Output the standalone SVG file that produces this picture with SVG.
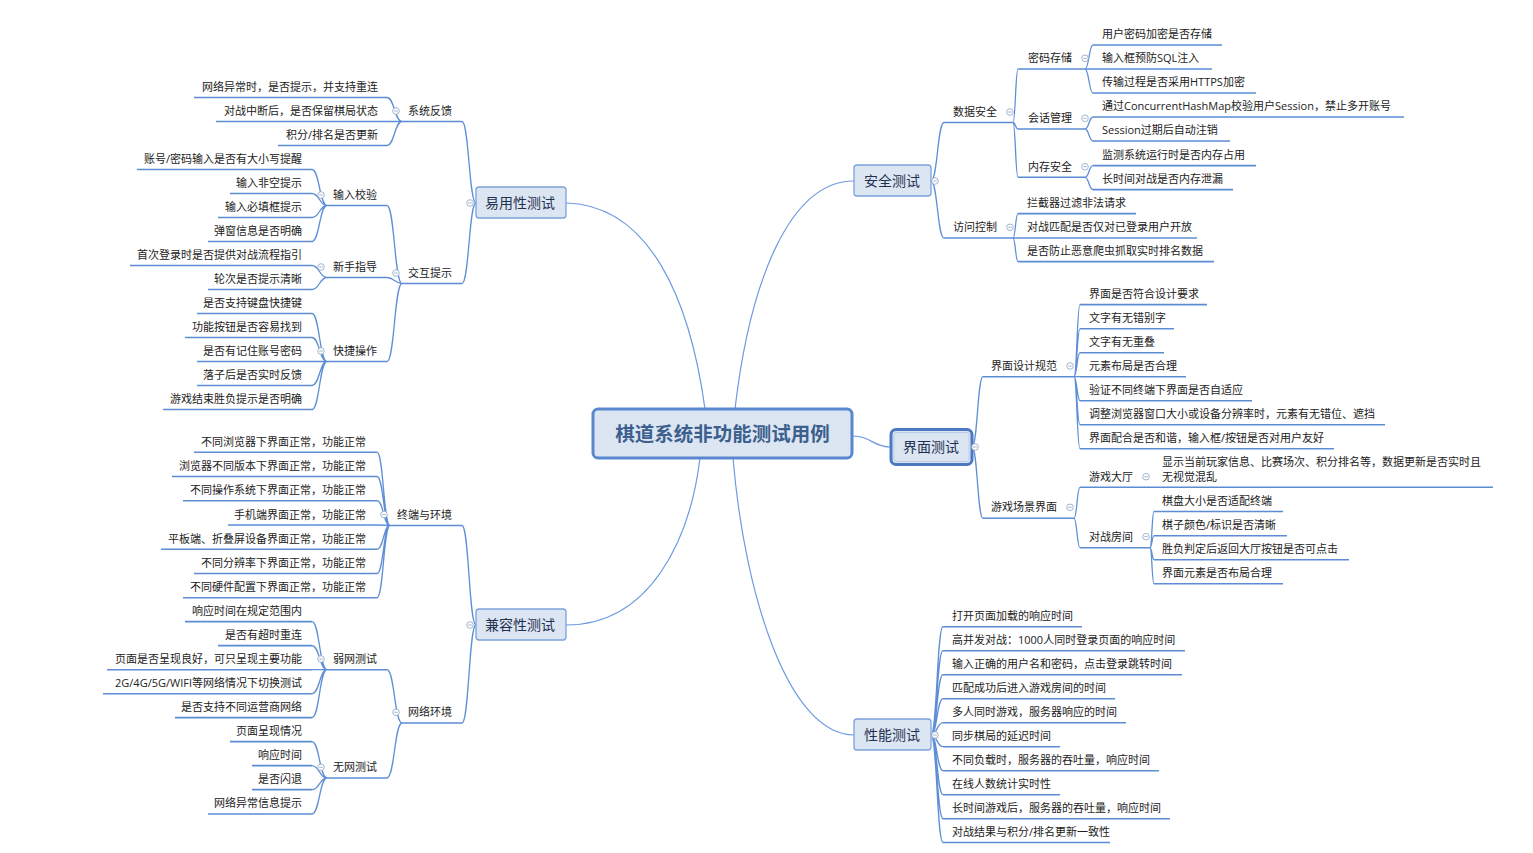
<svg xmlns="http://www.w3.org/2000/svg" width="1533" height="853" viewBox="0 0 1533 853">
<style>
text{font-family:"Open Sans","Noto Sans CJK SC",sans-serif;fill:#222;}
.t{font-size:11px;}
.e{text-anchor:end;}
.t1{font-size:14px;fill:#1f3050;text-anchor:middle;}
.t0{font-size:19.5px;font-weight:bold;fill:#3d5f8e;text-anchor:middle;}
.c0{fill:none;stroke:#6d9be0;stroke-width:1.2;}
.br{fill:none;stroke:#5e8fd6;stroke-width:1.3;}
.ul{stroke:#5b8cd4;stroke-width:1.6;}
.b1{fill:#dce6f2;stroke:#7ba2da;stroke-width:1.3;}
.col{fill:#fff;stroke:#98aeca;stroke-width:0.9;}
.cm{stroke:#98aeca;stroke-width:0.9;}
</style>
<defs>
<g id="cc"><circle class="col" cx="0" cy="0" r="3.3"/><line class="cm" x1="-1.8" y1="0" x2="1.8" y2="0"/></g>
</defs>
<rect width="1533" height="853" fill="#fff"/>

<g id="connectors">
<path class="c0" d="M566,203 C650,205 690,300 705,409"/>
<path class="c0" d="M566,625 C650,625 690,540 700,458"/>
<path class="c0" d="M854,181 C790,181 750,280 735,409"/>
<path class="c0" d="M733,458 C745,600 790,735 854,735"/>
<path class="c0" d="M852,436 C872,436 872,447 891,447"/>

<path class="br" d="M476,203 C469,203 469,121.5 462,121.5 M476,203 C469,203 469,283.5 462,283.5"/>
<path class="br" d="M402,121.5 C394.5,121.5 394.5,97.5 387,97.5 M402,121.5 L387,121.5 M402,121.5 C394.5,121.5 394.5,145.5 387,145.5"/>
<path class="br" d="M402,283.5 C394.5,283.5 394.5,205.5 387,205.5 M402,283.5 C394.5,283.5 394.5,277.5 387,277.5 M402,283.5 C394.5,283.5 394.5,361.5 387,361.5"/>
<path class="br" d="M327,205.5 C319.5,205.5 319.5,169.5 312,169.5 M327,205.5 C319.5,205.5 319.5,193.5 312,193.5 M327,205.5 C319.5,205.5 319.5,217.5 312,217.5 M327,205.5 C319.5,205.5 319.5,241.5 312,241.5"/>
<path class="br" d="M327,277.5 C319.5,277.5 319.5,265.5 312,265.5 M327,277.5 C319.5,277.5 319.5,289.5 312,289.5"/>
<path class="br" d="M327,361.5 C319.5,361.5 319.5,313.5 312,313.5 M327,361.5 C319.5,361.5 319.5,337.5 312,337.5 M327,361.5 L312,361.5 M327,361.5 C319.5,361.5 319.5,385.5 312,385.5 M327,361.5 C319.5,361.5 319.5,409.5 312,409.5"/>

<path class="br" d="M476,625 C469,625 469,525.5 462,525.5 M476,625 C469,625 469,723 462,723"/>
<path class="br" d="M390,525.5 C383.5,525.5 383.5,452.2 377,452.2 M390,525.5 C383.5,525.5 383.5,476.5 377,476.5 M390,525.5 C383.5,525.5 383.5,500.7 377,500.7 M390,525.5 L377,525 M390,525.5 C383.5,525.5 383.5,549.3 377,549.3 M390,525.5 C383.5,525.5 383.5,573.5 377,573.5 M390,525.5 C383.5,525.5 383.5,597.8 377,597.8"/>
<path class="br" d="M402,723 C394.5,723 394.5,669.7 387,669.7 M402,723 C394.5,723 394.5,778 387,778"/>
<path class="br" d="M327,669.7 C319.5,669.7 319.5,621.6 312,621.6 M327,669.7 C319.5,669.7 319.5,645.6 312,645.6 M327,669.7 L312,669.7 M327,669.7 C319.5,669.7 319.5,693.8 312,693.8 M327,669.7 C319.5,669.7 319.5,717.6 312,717.6"/>
<path class="br" d="M327,778 C319.5,778 319.5,741.6 312,741.6 M327,778 C319.5,778 319.5,765.6 312,765.6 M327,778 C319.5,778 319.5,789.6 312,789.6 M327,778 C319.5,778 319.5,814 312,814"/>

<path class="br" d="M931,181 C937.5,181 937.5,122.5 944,122.5 M931,181 C937.5,181 937.5,238 944,238"/>
<path class="br" d="M1013,122.5 C1015.5,122.5 1015.5,69 1018,69 M1013,122.5 C1015.5,122.5 1015.5,129 1018,129 M1013,122.5 C1015.5,122.5 1015.5,177.3 1018,177.3"/>
<path class="br" d="M1085,69 C1089,69 1089,45 1093,45 M1085,69 L1093,69 M1085,69 C1089,69 1089,93 1093,93"/>
<path class="br" d="M1085,129 C1089,129 1089,117 1093,117 M1085,129 C1089,129 1089,141 1093,141"/>
<path class="br" d="M1085,177.3 C1089,177.3 1089,165.6 1093,165.6 M1085,177.3 C1089,177.3 1089,189.6 1093,189.6"/>
<path class="br" d="M1013,238 C1015.5,238 1015.5,213.6 1018,213.6 M1013,238 L1018,238 M1013,238 C1015.5,238 1015.5,261.6 1018,261.6"/>

<path class="br" d="M972,447 C977.5,447 977.5,376.7 983,376.7 M972,447 C977.5,447 977.5,518.3 983,518.3"/>
<path class="br" d="M1074,376.7 C1077,376.7 1077,304.6 1080,304.6 M1074,376.7 C1077,376.7 1077,328.8 1080,328.8 M1074,376.7 C1077,376.7 1077,352.7 1080,352.7 M1074,376.7 L1080,376.7 M1074,376.7 C1077,376.7 1077,400.7 1080,400.7 M1074,376.7 C1077,376.7 1077,424.8 1080,424.8 M1074,376.7 C1077,376.7 1077,448.8 1080,448.8"/>
<path class="br" d="M1074,518.3 C1077,518.3 1077,487.3 1080,487.3 M1074,518.3 C1077,518.3 1077,547.7 1080,547.7"/>
<path class="br" d="M1150,547.7 C1152,547.7 1152,511.5 1154,511.5 M1150,547.7 C1152,547.7 1152,535.7 1154,535.7 M1150,547.7 C1152,547.7 1152,559.7 1154,559.7 M1150,547.7 C1152,547.7 1152,583.8 1154,583.8"/>

<path class="br" d="M931,735 C937,735 937,626.7 943,626.7 M931,735 C937,735 937,650.7 943,650.7 M931,735 C937,735 937,674.7 943,674.7 M931,735 C937,735 937,698.7 943,698.7 M931,735 C937,735 937,722.7 943,722.7 M931,735 C937,735 937,746.7 943,746.7 M931,735 C937,735 937,770.7 943,770.7 M931,735 C937,735 937,794.7 943,794.7 M931,735 C937,735 937,818.7 943,818.7 M931,735 C937,735 937,842.5 943,842.5"/>
</g>

<g id="root">
<rect x="593" y="409" width="259" height="49" rx="5" fill="#dce6f2" stroke="#5a88cf" stroke-width="3"/>
<text class="t0" x="722.5" y="441">棋道系统非功能测试用例</text>
</g>

<g id="n-yiyong">
<rect class="b1" x="476" y="187" width="90" height="31" rx="3"/>
<text class="t1" x="520" y="208">易用性测试</text>
<use href="#cc" x="470" y="203"/>
</g>
<g id="n-xitongfankui">
<line class="ul" x1="402" y1="121.5" x2="462" y2="121.5"/>
<text class="t e" x="452" y="115">系统反馈</text>
<use href="#cc" x="396" y="111"/>
</g>
<g id="l-xtfk">
<line class="ul" x1="194" y1="97.5" x2="387" y2="97.5"/><text class="t e" x="378" y="91">网络异常时，是否提示，并支持重连</text>
<line class="ul" x1="216" y1="121.5" x2="387" y2="121.5"/><text class="t e" x="378" y="115">对战中断后，是否保留棋局状态</text>
<line class="ul" x1="278" y1="145.5" x2="387" y2="145.5"/><text class="t e" x="378" y="139">积分/排名是否更新</text>
</g>
<g id="n-jiaohu">
<line class="ul" x1="402" y1="283.5" x2="462" y2="283.5"/>
<text class="t e" x="452" y="277">交互提示</text>
<use href="#cc" x="396" y="273"/>
</g>
<g id="n-shuru">
<line class="ul" x1="327" y1="205.5" x2="387" y2="205.5"/>
<text class="t e" x="377" y="199">输入校验</text>
<use href="#cc" x="321" y="195"/>
<line class="ul" x1="137" y1="169.5" x2="312" y2="169.5"/><text class="t e" x="302" y="163">账号/密码输入是否有大小写提醒</text>
<line class="ul" x1="230" y1="193.5" x2="312" y2="193.5"/><text class="t e" x="302" y="187">输入非空提示</text>
<line class="ul" x1="218" y1="217.5" x2="312" y2="217.5"/><text class="t e" x="302" y="211">输入必填框提示</text>
<line class="ul" x1="208" y1="241.5" x2="312" y2="241.5"/><text class="t e" x="302" y="235">弹窗信息是否明确</text>
</g>
<g id="n-xinshou">
<line class="ul" x1="327" y1="277.5" x2="387" y2="277.5"/>
<text class="t e" x="377" y="271">新手指导</text>
<use href="#cc" x="321" y="267"/>
<line class="ul" x1="130" y1="265.5" x2="312" y2="265.5"/><text class="t e" x="302" y="259">首次登录时是否提供对战流程指引</text>
<line class="ul" x1="208" y1="289.5" x2="312" y2="289.5"/><text class="t e" x="302" y="283">轮次是否提示清晰</text>
</g>
<g id="n-kuaijie">
<line class="ul" x1="327" y1="361.5" x2="387" y2="361.5"/>
<text class="t e" x="377" y="355">快捷操作</text>
<use href="#cc" x="321" y="351"/>
<line class="ul" x1="197" y1="313.5" x2="312" y2="313.5"/><text class="t e" x="302" y="307">是否支持键盘快捷键</text>
<line class="ul" x1="185" y1="337.5" x2="312" y2="337.5"/><text class="t e" x="302" y="331">功能按钮是否容易找到</text>
<line class="ul" x1="197" y1="361.5" x2="312" y2="361.5"/><text class="t e" x="302" y="355">是否有记住账号密码</text>
<line class="ul" x1="197" y1="385.5" x2="312" y2="385.5"/><text class="t e" x="302" y="379">落子后是否实时反馈</text>
<line class="ul" x1="163" y1="409.5" x2="312" y2="409.5"/><text class="t e" x="302" y="403">游戏结束胜负提示是否明确</text>
</g>

<g id="n-jianrong">
<rect class="b1" x="476" y="609" width="90" height="31" rx="3"/>
<text class="t1" x="520" y="630">兼容性测试</text>
<use href="#cc" x="470" y="625"/>
</g>
<g id="n-zhongduan">
<line class="ul" x1="390" y1="525.5" x2="462" y2="525.5"/>
<text class="t e" x="452" y="519">终端与环境</text>
<use href="#cc" x="384" y="514.5"/>
<line class="ul" x1="194" y1="452.2" x2="377" y2="452.2"/><text class="t e" x="366" y="445.7">不同浏览器下界面正常，功能正常</text>
<line class="ul" x1="172" y1="476.5" x2="377" y2="476.5"/><text class="t e" x="366" y="470">浏览器不同版本下界面正常，功能正常</text>
<line class="ul" x1="183" y1="500.7" x2="377" y2="500.7"/><text class="t e" x="366" y="494.2">不同操作系统下界面正常，功能正常</text>
<line class="ul" x1="228" y1="525" x2="377" y2="525"/><text class="t e" x="366" y="518.5">手机端界面正常，功能正常</text>
<line class="ul" x1="161" y1="549.3" x2="377" y2="549.3"/><text class="t e" x="366" y="542.8">平板端、折叠屏设备界面正常，功能正常</text>
<line class="ul" x1="194" y1="573.5" x2="377" y2="573.5"/><text class="t e" x="366" y="567">不同分辨率下界面正常，功能正常</text>
<line class="ul" x1="183" y1="597.8" x2="377" y2="597.8"/><text class="t e" x="366" y="591.3">不同硬件配置下界面正常，功能正常</text>
</g>
<g id="n-wangluo">
<line class="ul" x1="402" y1="723" x2="462" y2="723"/>
<text class="t e" x="452" y="716.3">网络环境</text>
<use href="#cc" x="396" y="712.3"/>
</g>
<g id="n-ruowang">
<line class="ul" x1="327" y1="669.7" x2="387" y2="669.7"/>
<text class="t e" x="377" y="663">弱网测试</text>
<use href="#cc" x="321" y="659"/>
<line class="ul" x1="185" y1="621.6" x2="312" y2="621.6"/><text class="t e" x="302" y="615">响应时间在规定范围内</text>
<line class="ul" x1="218" y1="645.6" x2="312" y2="645.6"/><text class="t e" x="302" y="639">是否有超时重连</text>
<line class="ul" x1="107" y1="669.7" x2="312" y2="669.7"/><text class="t e" x="302" y="663">页面是否呈现良好，可只呈现主要功能</text>
<line class="ul" x1="103" y1="693.8" x2="312" y2="693.8"/><text class="t e" x="302" y="687.3">2G/4G/5G/WIFI等网络情况下切换测试</text>
<line class="ul" x1="175" y1="717.6" x2="312" y2="717.6"/><text class="t e" x="302" y="710.7">是否支持不同运营商网络</text>
</g>
<g id="n-wuwang">
<line class="ul" x1="327" y1="778" x2="387" y2="778"/>
<text class="t e" x="377" y="771.3">无网测试</text>
<use href="#cc" x="321" y="767.3"/>
<line class="ul" x1="230" y1="741.6" x2="312" y2="741.6"/><text class="t e" x="302" y="735">页面呈现情况</text>
<line class="ul" x1="252" y1="765.6" x2="312" y2="765.6"/><text class="t e" x="302" y="759">响应时间</text>
<line class="ul" x1="252" y1="789.6" x2="312" y2="789.6"/><text class="t e" x="302" y="782.5">是否闪退</text>
<line class="ul" x1="208" y1="814" x2="312" y2="814"/><text class="t e" x="302" y="807.3">网络异常信息提示</text>
</g>

<g id="n-anquan">
<rect class="b1" x="854" y="165" width="77" height="31" rx="3"/>
<text class="t1" x="892" y="186">安全测试</text>
<use href="#cc" x="935" y="181"/>
</g>
<g id="n-shuju">
<line class="ul" x1="944" y1="122.5" x2="1013" y2="122.5"/>
<text class="t" x="953" y="115.7">数据安全</text>
<use href="#cc" x="1010" y="112"/>
</g>
<g id="n-mima">
<line class="ul" x1="1018" y1="69" x2="1085" y2="69"/>
<text class="t" x="1028" y="62.3">密码存储</text>
<use href="#cc" x="1085" y="58.3"/>
<line class="ul" x1="1093" y1="45" x2="1222" y2="45"/><text class="t" x="1102" y="38">用户密码加密是否存储</text>
<line class="ul" x1="1093" y1="69" x2="1212" y2="69"/><text class="t" x="1102" y="62.3">输入框预防SQL注入</text>
<line class="ul" x1="1093" y1="93" x2="1256" y2="93"/><text class="t" x="1102" y="86.3">传输过程是否采用HTTPS加密</text>
</g>
<g id="n-huihua">
<line class="ul" x1="1018" y1="129" x2="1085" y2="129"/>
<text class="t" x="1028" y="122.3">会话管理</text>
<use href="#cc" x="1085" y="118.3"/>
<line class="ul" x1="1093" y1="117" x2="1404" y2="117"/><text class="t" x="1102" y="110">通过ConcurrentHashMap校验用户Session，禁止多开账号</text>
<line class="ul" x1="1093" y1="141" x2="1230" y2="141"/><text class="t" x="1102" y="134">Session过期后自动注销</text>
</g>
<g id="n-neicun">
<line class="ul" x1="1018" y1="177.3" x2="1085" y2="177.3"/>
<text class="t" x="1028" y="170.7">内存安全</text>
<use href="#cc" x="1085" y="166.7"/>
<line class="ul" x1="1093" y1="165.6" x2="1256" y2="165.6"/><text class="t" x="1102" y="159">监测系统运行时是否内存占用</text>
<line class="ul" x1="1093" y1="189.6" x2="1233" y2="189.6"/><text class="t" x="1102" y="183">长时间对战是否内存泄漏</text>
</g>
<g id="n-fangwen">
<line class="ul" x1="944" y1="238" x2="1013" y2="238"/>
<text class="t" x="953" y="231.3">访问控制</text>
<use href="#cc" x="1010" y="227.3"/>
<line class="ul" x1="1018" y1="213.6" x2="1136" y2="213.6"/><text class="t" x="1027" y="207">拦截器过滤非法请求</text>
<line class="ul" x1="1018" y1="238" x2="1197" y2="238"/><text class="t" x="1027" y="231">对战匹配是否仅对已登录用户开放</text>
<line class="ul" x1="1018" y1="261.6" x2="1214" y2="261.6"/><text class="t" x="1027" y="255">是否防止恶意爬虫抓取实时排名数据</text>
</g>

<g id="n-jiemian">
<rect x="891" y="429.5" width="81" height="35" rx="5" fill="#dce6f2" stroke="#4d78c2" stroke-width="3"/>
<rect x="894" y="432.5" width="75" height="29" rx="3" fill="none" stroke="#b9cdea" stroke-width="1"/>
<text class="t1" x="931" y="452">界面测试</text>
<use href="#cc" x="975" y="447"/>
</g>
<g id="n-sheji">
<line class="ul" x1="983" y1="376.7" x2="1074" y2="376.7"/>
<text class="t" x="991" y="370">界面设计规范</text>
<use href="#cc" x="1070" y="366"/>
<line class="ul" x1="1080" y1="304.6" x2="1207" y2="304.6"/><text class="t" x="1089" y="298">界面是否符合设计要求</text>
<line class="ul" x1="1080" y1="328.8" x2="1174" y2="328.8"/><text class="t" x="1089" y="322.3">文字有无错别字</text>
<line class="ul" x1="1080" y1="352.7" x2="1164" y2="352.7"/><text class="t" x="1089" y="345.7">文字有无重叠</text>
<line class="ul" x1="1080" y1="376.7" x2="1186" y2="376.7"/><text class="t" x="1089" y="370">元素布局是否合理</text>
<line class="ul" x1="1080" y1="400.7" x2="1252" y2="400.7"/><text class="t" x="1089" y="394">验证不同终端下界面是否自适应</text>
<line class="ul" x1="1080" y1="424.8" x2="1385" y2="424.8"/><text class="t" x="1089" y="418">调整浏览器窗口大小或设备分辨率时，元素有无错位、遮挡</text>
<line class="ul" x1="1080" y1="448.8" x2="1334" y2="448.8"/><text class="t" x="1089" y="442.3">界面配合是否和谐，输入框/按钮是否对用户友好</text>
</g>
<g id="n-changjing">
<line class="ul" x1="983" y1="518.3" x2="1074" y2="518.3"/>
<text class="t" x="991" y="511.3">游戏场景界面</text>
<use href="#cc" x="1070" y="507.3"/>
</g>
<g id="n-dating">
<line class="ul" x1="1080" y1="487.3" x2="1493" y2="487.3"/>
<text class="t" x="1089" y="480.7">游戏大厅</text>
<use href="#cc" x="1146" y="476.7"/>
<text class="t" x="1162" y="466.3">显示当前玩家信息、比赛场次、积分排名等，数据更新是否实时且</text>
<text class="t" x="1162" y="481.3">无视觉混乱</text>
</g>
<g id="n-fangjian">
<line class="ul" x1="1080" y1="547.7" x2="1150" y2="547.7"/>
<text class="t" x="1089" y="540.7">对战房间</text>
<use href="#cc" x="1146" y="536.7"/>
<line class="ul" x1="1154" y1="511.5" x2="1283" y2="511.5"/><text class="t" x="1162" y="504.7">棋盘大小是否适配终端</text>
<line class="ul" x1="1154" y1="535.7" x2="1287" y2="535.7"/><text class="t" x="1162" y="529">棋子颜色/标识是否清晰</text>
<line class="ul" x1="1154" y1="559.7" x2="1349" y2="559.7"/><text class="t" x="1162" y="552.7">胜负判定后返回大厅按钮是否可点击</text>
<line class="ul" x1="1154" y1="583.8" x2="1283" y2="583.8"/><text class="t" x="1162" y="576.7">界面元素是否布局合理</text>
</g>

<g id="n-xingneng">
<rect class="b1" x="854" y="719" width="77" height="31" rx="3"/>
<text class="t1" x="892" y="740">性能测试</text>
<use href="#cc" x="935" y="735"/>
<line class="ul" x1="943" y1="626.7" x2="1082" y2="626.7"/><text class="t" x="952" y="620">打开页面加载的响应时间</text>
<line class="ul" x1="943" y1="650.7" x2="1185" y2="650.7"/><text class="t" x="952" y="644">高并发对战：1000人同时登录页面的响应时间</text>
<line class="ul" x1="943" y1="674.7" x2="1182" y2="674.7"/><text class="t" x="952" y="668">输入正确的用户名和密码，点击登录跳转时间</text>
<line class="ul" x1="943" y1="698.7" x2="1115" y2="698.7"/><text class="t" x="952" y="692">匹配成功后进入游戏房间的时间</text>
<line class="ul" x1="943" y1="722.7" x2="1126" y2="722.7"/><text class="t" x="952" y="716">多人同时游戏，服务器响应的时间</text>
<line class="ul" x1="943" y1="746.7" x2="1060" y2="746.7"/><text class="t" x="952" y="740">同步棋局的延迟时间</text>
<line class="ul" x1="943" y1="770.7" x2="1159" y2="770.7"/><text class="t" x="952" y="764">不同负载时，服务器的吞吐量，响应时间</text>
<line class="ul" x1="943" y1="794.7" x2="1060" y2="794.7"/><text class="t" x="952" y="788">在线人数统计实时性</text>
<line class="ul" x1="943" y1="818.7" x2="1170" y2="818.7"/><text class="t" x="952" y="812">长时间游戏后，服务器的吞吐量，响应时间</text>
<line class="ul" x1="943" y1="842.5" x2="1110" y2="842.5"/><text class="t" x="952" y="836">对战结果与积分/排名更新一致性</text>
</g>
</svg>
